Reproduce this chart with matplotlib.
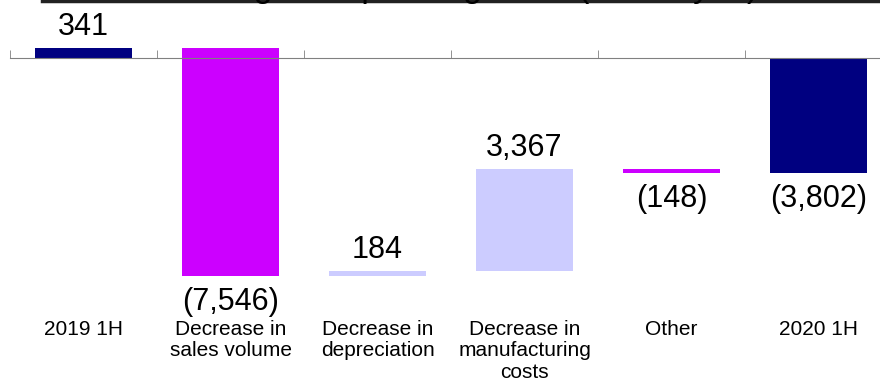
#!/usr/bin/env python3
"""Waterfall of operating profit change, 2019 1H -> 2020 1H."""

import matplotlib
matplotlib.use('Agg')
import matplotlib.pyplot as plt
from matplotlib.lines import Line2D

plt.rcParams['font.family'] = ['Liberation Sans', 'DejaVu Sans']

# data
categories = ['2019 1H', 'Decrease in\nsales volume', 'Decrease in\ndepreciation',
              'Decrease in\nmanufacturing\ncosts', 'Other', '2020 1H']
values = [341, -7546, 184, 3367, -148, -3802]
is_total = [True, False, False, False, False, True]

NAVY = '#000080'
MAGENTA = '#CC00FF'
LAVENDER = '#CCCCFF'


def fmt(v):
    return f'({abs(v):,})' if v < 0 else f'{v:,}'


# bar bottoms / tops
bottoms, heights, colors = [], [], []
running = 0
for v, tot in zip(values, is_total):
    if tot:
        bottoms.append(0)
        heights.append(v)
        colors.append(NAVY)
        running = v
    else:
        bottoms.append(running)
        heights.append(v)
        colors.append(MAGENTA if v < 0 else LAVENDER)
        running += v

fig = plt.figure(figsize=(8.8, 3.83), dpi=100)
ax = fig.add_axes([10 / 880, 0, 882 / 880, 1])
ax.set_xlim(-0.5, 5.5)
ax.set_ylim(-10726, 1914)

x = list(range(len(categories)))
ax.bar(x, heights, bottom=bottoms, width=0.66, color=colors, zorder=2)

# zero axis with boundary ticks pointing up
for s in ['top', 'right', 'left']:
    ax.spines[s].set_visible(False)
ax.spines['bottom'].set_position(('data', 0))
ax.spines['bottom'].set_color('#808080')
ax.set_yticks([])
ax.set_xticks(x)
ax.set_xticks([i - 0.5 for i in range(len(categories) + 1)], minor=True)
ax.tick_params(axis='x', which='major', length=0, labelbottom=False)
ax.tick_params(axis='x', which='minor', direction='in', length=6, color='#808080')

# value labels
for xi, b, h, v in zip(x, bottoms, heights, values):
    top = max(b, b + h)
    low = min(b, b + h)
    if v >= 0:
        ax.annotate(fmt(v), (xi, top), xytext=(0, 9), textcoords='offset points',
                    ha='center', va='baseline', fontsize=22)
    else:
        ax.annotate(fmt(v), (xi, low), xytext=(0, -8), textcoords='offset points',
                    ha='center', va='top', fontsize=22)

# category labels
for xi, lab in zip(x, categories):
    ax.text(xi, 1 - 320 / 383, lab, transform=ax.get_xaxis_transform(),
            ha='center', va='top', fontsize=15, linespacing=1.15)

# title cut off at the top edge, plus its rule
fig.text(0.53, 1 + 3 / 383, 'Change in Operating Profit (Million yen)', ha='center',
         va='baseline', fontsize=24)
fig.add_artist(Line2D([42 / 880, 1], [0.998, 0.998], color='#222222', lw=2.5,
                      transform=fig.transFigure))

fig.savefig('out.png', dpi=100)
